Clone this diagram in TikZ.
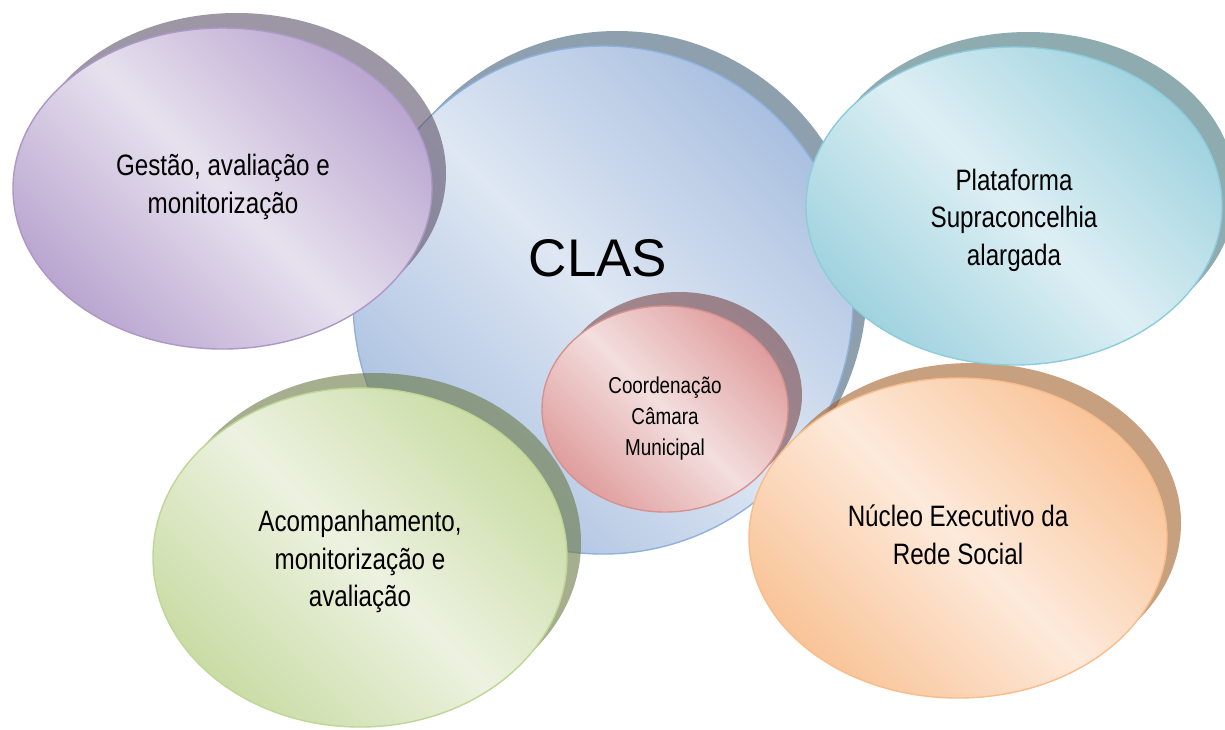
\documentclass[tikz,border=0pt]{standalone}
\usepackage{fontspec}
\setmainfont{Liberation Sans}
\newfontfamily\narrowfont[FakeStretch=0.82]{Liberation Sans}
\usetikzlibrary{shapes.geometric}
% fills
\definecolor{dkClas}{RGB}{170,192,224}
\definecolor{ltClas}{RGB}{222,231,243}
\definecolor{bdClas}{RGB}{142,178,222}
\definecolor{shClas}{RGB}{68,95,120}
\definecolor{dkPur}{RGB}{186,166,208}
\definecolor{ltPur}{RGB}{231,225,238}
\definecolor{bdPur}{RGB}{172,152,200}
\definecolor{shPur}{RGB}{92,80,105}
\definecolor{dkCya}{RGB}{160,211,223}
\definecolor{ltCya}{RGB}{221,239,244}
\definecolor{bdCya}{RGB}{140,204,220}
\definecolor{shCya}{RGB}{68,115,123}
\definecolor{dkOra}{RGB}{249,196,152}
\definecolor{ltOra}{RGB}{253,234,219}
\definecolor{bdOra}{RGB}{249,188,138}
\definecolor{shOra}{RGB}{163,97,42}
\definecolor{dkGre}{RGB}{202,220,165}
\definecolor{ltGre}{RGB}{236,242,224}
\definecolor{bdGre}{RGB}{190,214,150}
\definecolor{shGre}{RGB}{105,120,68}
\definecolor{dkPin}{RGB}{224,158,158}
\definecolor{ltPin}{RGB}{243,222,222}
\definecolor{bdPin}{RGB}{214,146,144}
\definecolor{shPin}{RGB}{120,70,72}
\begin{document}
\begin{tikzpicture}[x=1pt,y=-1pt,
  blob/.style={ellipse, inner sep=0pt, outer sep=0pt, line width=1.4pt, shading angle=-45},
  shadowblob/.style={ellipse, inner sep=0pt, outer sep=0pt, fill opacity=0.6, draw=none},
  lbl/.style={font=\narrowfont\fontsize{29.5}{37.5}\selectfont, align=center, anchor=base, inner sep=0pt},
  smalllbl/.style={font=\narrowfont\fontsize{23}{31.2}\selectfont, align=center, anchor=base, inner sep=0pt}
]
\fill[white] (0,0) rectangle (1225,729);
\useasboundingbox (0,0) rectangle (1225,729);

% CLAS
\node[shadowblob, fill=shClas, minimum width=500, minimum height=508] (clasS) at (617,285) {};
\node[blob, draw=bdClas, top color=dkClas, bottom color=dkClas, middle color=ltClas, shading angle=-45, minimum width=500, minimum height=508] (clas) at (603,300) {};

% Purple
\node[shadowblob, fill=shPur, minimum width=419, minimum height=321] (gestS) at (236.5,173.5) {};
\node[blob, draw=bdPur, top color=dkPur, bottom color=dkPur, middle color=ltPur, shading angle=-45, minimum width=419, minimum height=321] (gest) at (222.5,188.5) {};

% Green
\node[shadowblob, fill=shGre, minimum width=414, minimum height=339] (acomS) at (374,542.5) {};
\node[blob, draw=bdGre, top color=dkGre, bottom color=dkGre, middle color=ltGre, shading angle=-45, minimum width=414, minimum height=339] (acom) at (360,557.5) {};

% Pink
\node[shadowblob, fill=shPin, minimum width=246, minimum height=206] (coordS) at (679,395) {};
\node[blob, draw=bdPin, top color=dkPin, bottom color=dkPin, middle color=ltPin, shading angle=-45, minimum width=246, minimum height=206] (coord) at (665,409) {};

% Orange
\node[shadowblob, fill=shOra, minimum width=418, minimum height=320] (nuclS) at (972,523) {};
\node[blob, draw=bdOra, top color=dkOra, bottom color=dkOra, middle color=ltOra, shading angle=-45, minimum width=418, minimum height=320] (nucl) at (958,538) {};

% Cyan
\node[shadowblob, fill=shCya, minimum width=416, minimum height=318] (platS) at (1028,191) {};
\node[blob, draw=bdCya, top color=dkCya, bottom color=dkCya, middle color=ltCya, shading angle=-45, minimum width=416, minimum height=318] (plat) at (1014,206) {};

% Texts (anchor = baseline of the last line)
\node[lbl] (tGest) at (223,213) {Gestão, avaliação e\\monitorização};
\node[font=\fontsize{53}{60}\selectfont, anchor=base, inner sep=0pt] (tClas) at (598,276) {CLAS};
\node[smalllbl] (tCoord) at (665,455.7) {Coordenação\\Câmara\\Municipal};
\node[lbl] (tAcom) at (360,606.7) {Acompanhamento,\\monitorização e\\avaliação};
\node[lbl] (tNucl) at (958,564) {Núcleo Executivo da\\Rede Social};
\node[lbl] (tPlat) at (1014,265) {Plataforma\\Supraconcelhia\\alargada};
\end{tikzpicture}
\end{document}
